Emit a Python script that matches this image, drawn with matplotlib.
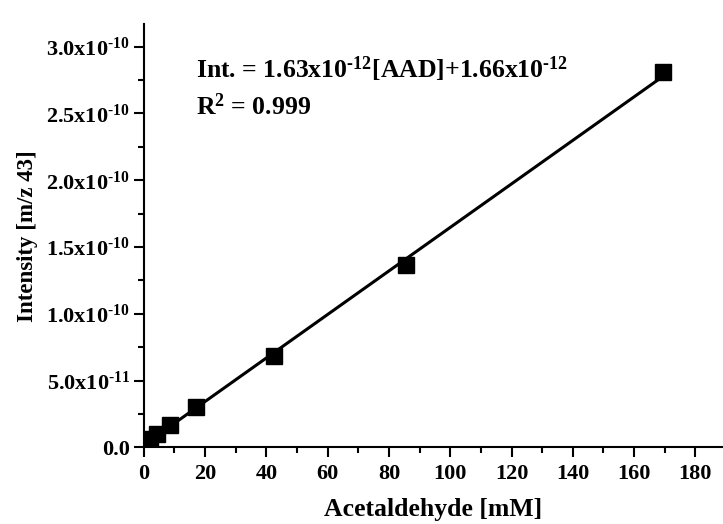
import numpy as np
import matplotlib
matplotlib.use("Agg")
import matplotlib.pyplot as plt
from matplotlib.ticker import MultipleLocator, FuncFormatter

# calibration data: acetaldehyde concentration vs m/z 43 signal
conc_mM = [2.1, 4.3, 8.5, 17.2, 42.6, 85.6, 169.5]
intensity = [6.0e-12, 1.0e-11, 1.67e-11, 3.0e-11, 6.87e-11, 1.367e-10, 2.81e-10]
y_ticks = [0.0, 5e-11, 1e-10, 1.5e-10, 2e-10, 2.5e-10, 3e-10]

# linear fit as reported
slope = 1.63e-12
intercept = 1.66e-12
r2 = 0.999

plt.rcParams["font.family"] = ["Liberation Serif", "DejaVu Serif"]
plt.rcParams["font.weight"] = "bold"
plt.rcParams["mathtext.fontset"] = "custom"
plt.rcParams["mathtext.rm"] = "Liberation Serif:bold"
plt.rcParams["mathtext.bf"] = "Liberation Serif:bold"
plt.rcParams["mathtext.it"] = "Liberation Serif:bold"
plt.rcParams["mathtext.default"] = "rm"

fig = plt.figure(figsize=(7.23, 5.24), dpi=100)
ax = fig.add_axes([0.1988, 0.1464, 0.8012, 0.8078])

x_fit = np.array([min(conc_mM), max(conc_mM)])
ax.plot(x_fit, slope * x_fit + intercept, color="black", lw=2.2, zorder=2)
ax.plot(conc_mM, intensity, "s", color="black", ms=11.5, zorder=3)

ax.set_xlim(0, 189)
ax.set_ylim(0, 3.17e-10)

ax.set_xticks(range(0, 181, 20))
ax.xaxis.set_minor_locator(MultipleLocator(10))
ax.set_yticks(y_ticks)
ax.yaxis.set_minor_locator(MultipleLocator(2.5e-11))


def sci_fmt(v, pos):
    # "3.0x10^-10" style labels with a plain hyphen in the exponent
    if abs(v) < 1e-20:
        return "0.0"
    exp = int(np.floor(np.log10(abs(v))))
    mant = v / 10 ** exp
    return f"{mant:.1f}x10$^{{\\text{{-}}{-exp}}}$"


ax.yaxis.set_major_formatter(FuncFormatter(sci_fmt))

for side in ["top", "right"]:
    ax.spines[side].set_visible(False)
for side in ["left", "bottom"]:
    ax.spines[side].set_linewidth(1.5)

ax.tick_params(which="major", direction="out", length=7, width=1.5, labelsize=16)
ax.tick_params(which="minor", direction="out", length=4, width=1.5)
ax.tick_params(axis="x", pad=5)
ax.tick_params(axis="y", pad=3)

ax.set_xlabel("Acetaldehyde [mM]", fontsize=18.5, fontweight="bold", labelpad=10)
ax.set_ylabel("Intensity [m/z 43]", fontsize=16.5, fontweight="bold", labelpad=6)

ax.text(0.09, 0.894, "Int. = 1.63x10$^{\\text{-}12}$[AAD]+1.66x10$^{\\text{-}12}$",
        transform=ax.transAxes, fontsize=18.5, fontweight="bold", va="center")
ax.text(0.09, 0.804, "R$^{2}$ = 0.999",
        transform=ax.transAxes, fontsize=18.5, fontweight="bold", va="center")

fig.savefig("out.png", dpi=100)
